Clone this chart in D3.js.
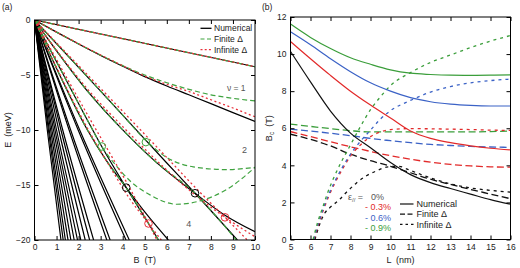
<!DOCTYPE html>
<html>
<head>
<meta charset="utf-8">
<script src="https://cdn.jsdelivr.net/npm/d3@7"></script>
<style>
  body { margin: 0; background: #fff; }
  svg { font-family: "Liberation Sans", Arial, sans-serif; }
</style>
</head>
<body>
<svg id="chart" width="520" height="268"></svg>
<script>
// ---------------- panel (a) data: E (meV) vs B (T) ----------------
const bTicks = [0, 1, 2, 3, 4, 5, 6, 7, 8, 9, 10];
const eTicks = [0, -5, -10, -15, -20];

// numerical Landau levels (black)
const numLevels = [
  [[0, 0], [10, -4.25]],
  [[0, 0], [1, -1.1], [2, -2.18], [3, -3.22], [4, -4.2], [5, -5.15], [6, -6.0], [7, -6.8], [8, -7.6], [9, -8.42], [10, -9.22]],
  [[0, 0], [1, -2.8], [2.5, -6.7], [4.2, -10.4], [5.5, -12.9], [7.28, -15.75], [8.6, -17.7], [10, -19.25]],
  [[0, 0], [2, -4.3], [4, -8.65], [6, -13.0], [7.28, -15.75], [9.2, -20]],
  [[0, 0], [1, -4.4], [2.4, -10.0], [3.3, -12.9], [4.16, -15.24], [5.1, -17.7], [6.07, -20]],
  [[0, 0], [1, -3.8], [2.52, -9.55], [3.05, -11.5], [4.16, -15.24], [5.17, -18.5], [5.62, -20]],
  // steep fan of higher levels
  [[0, 0], [2.05, -10], [4.3, -20]],
  [[0, 0], [1.98, -10], [4.15, -20]],
  [[0, 0], [1.64, -10], [3.43, -20]],
  [[0, 0], [1.57, -10], [3.28, -20]],
  [[0, 0], [1.28, -10], [2.68, -20]],
  [[0, 0], [1.2, -10], [2.5, -20]],
  [[0, 0], [1.1, -10], [2.3, -20]],
  [[0, 0], [1.0, -10], [2.1, -20]],
  [[0, 0], [0.93, -10], [1.95, -20]],
  [[0, 0], [0.86, -10], [1.8, -20]],
  [[0, 0], [0.79, -10], [1.65, -20]],
  [[0, 0], [0.73, -10], [1.52, -20]],
  [[0, 0], [0.67, -10], [1.4, -20]],
  [[0, 0], [0.63, -10], [1.3, -20]],
  [[0, 0], [0.58, -10], [1.2, -20]]
];

// finite Delta model (green dashed)
const finiteLevels = [
  [[0, 0], [10, -4.25]],
  [[0, 0], [1, -1.1], [2, -2.18], [3, -3.2], [4, -4.15], [5, -5.0], [6, -5.7], [7, -6.3], [8, -6.8], [9, -7.12], [10, -7.36]],
  [[0, 0], [1, -2.8], [2.5, -6.7], [4.2, -10.4], [5.5, -12.9], [7.28, -15.75], [8.2, -17.75], [9.15, -20]],
  [[0, 0], [2, -4.3], [4, -8.65], [5.05, -10.95], [6, -12.5], [7.2, -13.35], [8.7, -13.6], [10, -13.4]],
  [[0, 0], [1, -4.4], [2.4, -10.0], [3.3, -12.9], [4.16, -15.24], [5.17, -18.5], [5.62, -20]],
  [[0, 0], [1, -3.8], [2.52, -9.55], [3.05, -11.5], [3.73, -13.3], [4.4, -14.75], [5.24, -15.9], [6.45, -16.75], [7.5, -16.45], [8.72, -15.4], [10, -13.4]]
];

// infinite Delta model (red dotted)
const infiniteLevels = [
  [[0, 0], [10, -4.25]],
  [[0, 0], [1, -1.1], [2, -2.15], [3, -3.18], [4, -4.15], [5, -5.1], [6, -5.85], [7, -6.5], [8, -7.25], [9, -8.0], [10, -8.8]],
  [[0, 0], [1, -2.75], [2.5, -6.5], [4.2, -10.1], [5.5, -12.7], [7.28, -15.9], [8.64, -17.94], [10, -19.7]],
  [[0, 0], [2, -4.15], [4, -8.3], [6, -12.5], [7.28, -15.2], [8.64, -17.94], [9.65, -20]],
  [[0, 0], [1, -4.3], [2.5, -10.2], [3.5, -13.6], [4.3, -16.2], [5.17, -18.5], [5.75, -20]],
  [[0, 0], [1, -3.6], [2.6, -9.3], [3.5, -12.4], [4.3, -15.2], [5.17, -18.5], [5.55, -20]]
];

const blackCircles = [[4.16, -15.24], [7.28, -15.75]];
const greenCircles = [[3.05, -11.5], [5.05, -11.1]];
const redCircles = [[5.17, -18.5], [8.64, -17.94]];

// ---------------- panel (b) data: Bc (T) vs L (nm) ----------------
const lTicks = [5, 6, 7, 8, 9, 10, 11, 12, 13, 14, 15, 16];
const bcTicks = [0, 2, 4, 6, 8, 10, 12];
const strainLabels = ['0%', '- 0.3%', '- 0.6%', '- 0.9%'];

const numBc = [
  [[5, 10.14], [6, 8.5], [7, 6.93], [8, 5.74], [9, 4.95], [10, 4.15], [11, 3.5], [12, 3.07], [13, 2.75], [14, 2.45], [15, 2.15], [16, 1.9]],
  [[5, 10.68], [6, 9.75], [7, 8.85], [8, 8.0], [9, 7.25], [10, 6.55], [11, 5.85], [12, 5.45], [13, 5.22], [14, 5.05], [15, 4.92], [16, 4.83]],
  [[5, 11.2], [6, 10.5], [7, 9.75], [8, 9.05], [9, 8.45], [10, 8.0], [11, 7.65], [12, 7.43], [13, 7.3], [14, 7.23], [15, 7.2], [16, 7.2]],
  [[5, 11.62], [6, 10.9], [7, 10.3], [8, 9.8], [9, 9.45], [10, 9.15], [11, 8.97], [12, 8.9], [13, 8.86], [14, 8.85], [15, 8.86], [16, 8.88]]
];

const finiteBc = [
  [[5, 5.68], [6, 5.4], [7, 5.05], [8, 4.6], [9, 4.25], [10, 3.95], [11, 3.6], [12, 3.25], [13, 2.97], [14, 2.7], [15, 2.45], [16, 2.2]],
  [[5, 5.82], [6, 5.55], [7, 5.27], [8, 5.0], [9, 4.75], [10, 4.52], [11, 4.33], [12, 4.17], [13, 4.05], [14, 3.97], [15, 3.92], [16, 3.9]],
  [[5, 5.95], [6, 5.85], [7, 5.73], [8, 5.6], [9, 5.45], [10, 5.33], [11, 5.22], [12, 5.13], [13, 5.07], [14, 5.02], [15, 4.99], [16, 4.97]],
  [[5, 6.22], [6, 6.1], [7, 5.98], [8, 5.87], [9, 5.8], [10, 5.8], [11, 5.8], [12, 5.8], [13, 5.8], [14, 5.8], [15, 5.82], [16, 5.85]]
];

const infiniteBc = [
  [[6.22, 0], [6.45, 0.8], [6.7, 1.4], [7.0, 1.75], [7.4, 2.1], [7.8, 2.55], [8.3, 3.05], [8.8, 3.44], [9.3, 3.7], [9.8, 3.9], [10.4, 3.95], [11, 3.72], [12, 3.32], [13, 3.0], [14, 2.78], [15, 2.65], [16, 2.55]],
  [[6.18, 0], [6.4, 0.8], [6.65, 1.6], [6.9, 2.3], [7.2, 3.0], [7.6, 3.8], [8.0, 4.5], [8.5, 5.1], [9.0, 5.55], [9.5, 5.8], [10, 5.93], [11, 5.98], [12, 5.97], [13, 5.95], [14, 5.93], [15, 5.9], [16, 5.88]],
  [[6.16, 0], [6.4, 0.9], [6.65, 1.7], [6.9, 2.4], [7.2, 3.1], [7.6, 3.9], [8.0, 4.6], [8.5, 5.3], [9.0, 5.9], [9.5, 6.5], [10, 6.95], [11, 7.5], [12, 7.95], [13, 8.25], [14, 8.45], [15, 8.57], [16, 8.65]],
  [[6.13, 0], [6.35, 0.9], [6.6, 1.7], [6.85, 2.5], [7.15, 3.3], [7.5, 4.1], [8.0, 5.1], [8.5, 6.1], [9, 7.0], [9.5, 7.7], [10, 8.3], [11, 9.0], [12, 9.55], [13, 9.95], [14, 10.35], [15, 10.7], [16, 11.0]]
];

// ---------------- styles ----------------
const GREEN_A = '#3fa33f';
const RED_A = '#e8303a';
const strainColors = ['#111111', '#e22a2a', '#3b62c6', '#3b9e3b'];
const textColor = '#222';

const svg = d3.select('#chart');

// helper: framed panel with inward ticks on all four sides
function drawFrame(g, x, y, xTicks, yTicks) {
  const [x0, x1] = x.range();
  const [y0, y1] = y.range();

  g.append('g')
    .attr('transform', `translate(0,${y0})`)
    .call(d3.axisBottom(x).tickValues(xTicks).tickSize(-4).tickSizeOuter(0).tickPadding(4))
    .call(a => a.select('.domain').remove());
  g.append('g')
    .attr('transform', `translate(0,${y1})`)
    .call(d3.axisTop(x).tickValues(xTicks).tickSize(-4).tickSizeOuter(0).tickFormat(''))
    .call(a => a.select('.domain').remove());
  g.append('g')
    .attr('transform', `translate(${x0},0)`)
    .call(d3.axisLeft(y).tickValues(yTicks).tickSize(-4).tickSizeOuter(0).tickPadding(4))
    .call(a => a.select('.domain').remove());
  g.append('g')
    .attr('transform', `translate(${x1},0)`)
    .call(d3.axisRight(y).tickValues(yTicks).tickSize(-4).tickSizeOuter(0).tickFormat(''))
    .call(a => a.select('.domain').remove());

  g.selectAll('.tick text').attr('font-size', 8.5).attr('fill', textColor).attr('font-family', null);
  g.selectAll('.tick line').attr('stroke', '#000');

  g.append('rect')
    .attr('x', x0).attr('y', y1)
    .attr('width', x1 - x0).attr('height', y0 - y1)
    .attr('fill', 'none').attr('stroke', '#000').attr('stroke-width', 1);
}

function clipFor(id, x, y) {
  const [x0, x1] = x.range();
  const [y0, y1] = y.range();
  svg.append('clipPath').attr('id', id)
    .append('rect').attr('x', x0).attr('y', y1).attr('width', x1 - x0).attr('height', y0 - y1);
}

// ================= panel (a) =================
const xA = d3.scaleLinear().domain([0, 10]).range([34.5, 255]);
const yA = d3.scaleLinear().domain([-20, 0]).range([240, 20]);
clipFor('clipA', xA, yA);

const lineA = d3.line()
  .x(d => xA(d[0]))
  .y(d => yA(d[1]))
  .curve(d3.curveMonotoneX);

const gA = svg.append('g');
const plotA = gA.append('g').attr('clip-path', 'url(#clipA)');

plotA.selectAll('path.num')
  .data(numLevels)
  .join('path')
  .attr('class', 'num')
  .attr('d', lineA)
  .attr('fill', 'none')
  .attr('stroke', '#000')
  .attr('stroke-width', 1.2);

plotA.selectAll('path.fin')
  .data(finiteLevels)
  .join('path')
  .attr('class', 'fin')
  .attr('d', lineA)
  .attr('fill', 'none')
  .attr('stroke', GREEN_A)
  .attr('stroke-width', 1.2)
  .attr('stroke-dasharray', '5,3');

plotA.selectAll('path.inf')
  .data(infiniteLevels)
  .join('path')
  .attr('class', 'inf')
  .attr('d', lineA)
  .attr('fill', 'none')
  .attr('stroke', RED_A)
  .attr('stroke-width', 1.3)
  .attr('stroke-dasharray', '2,2.6');

// crossing markers
[[blackCircles, '#000'], [greenCircles, GREEN_A], [redCircles, RED_A]].forEach(([pts, col]) => {
  plotA.append('g').selectAll('circle')
    .data(pts)
    .join('circle')
    .attr('cx', d => xA(d[0]))
    .attr('cy', d => yA(d[1]))
    .attr('r', 3.8)
    .attr('fill', 'none')
    .attr('stroke', col)
    .attr('stroke-width', 1);
});

drawFrame(gA, xA, yA, bTicks, eTicks);

// filling factor labels
gA.append('text').attr('x', xA(9.15)).attr('y', yA(-6.2) + 3).attr('text-anchor', 'middle')
  .attr('font-size', 8.5).attr('fill', '#555').text('ν = 1');
gA.append('text').attr('x', xA(9.52)).attr('y', yA(-11.8) + 3).attr('text-anchor', 'middle')
  .attr('font-size', 9).attr('fill', '#555').text('2');
gA.append('text').attr('x', xA(7.0)).attr('y', yA(-18.55) + 3).attr('text-anchor', 'middle')
  .attr('font-size', 9).attr('fill', '#555').text('4');

// legend (a)
const legA = [
  { name: 'Numerical', stroke: '#000', dash: null, w: 1.3 },
  { name: 'Finite Δ', stroke: GREEN_A, dash: '4,2.5', w: 1.2 },
  { name: 'Infinite Δ', stroke: RED_A, dash: '2,2.2', w: 1.3 }
];
legA.forEach((d, i) => {
  const yy = 28.3 + i * 10.7;
  gA.append('line').attr('x1', 200.5).attr('x2', 211.5).attr('y1', yy).attr('y2', yy)
    .attr('stroke', d.stroke).attr('stroke-width', d.w).attr('stroke-dasharray', d.dash);
  gA.append('text').attr('x', 214).attr('y', yy + 3).attr('font-size', 8.5)
    .attr('fill', textColor).text(d.name);
});

// axis titles (a)
gA.append('text').attr('x', xA(5)).attr('y', 263).attr('text-anchor', 'middle')
  .attr('font-size', 9).attr('fill', textColor).attr('xml:space', 'preserve').text('B  (T)');
gA.append('text').attr('transform', `translate(11,${yA(-10)}) rotate(-90)`).attr('text-anchor', 'middle')
  .attr('font-size', 9).attr('fill', textColor).attr('xml:space', 'preserve').text('E  (meV)');
gA.append('text').attr('x', 2).attr('y', 10).attr('font-size', 8.5).attr('fill', textColor).text('(a)');

// ================= panel (b) =================
const xB = d3.scaleLinear().domain([5, 16]).range([290.5, 510.5]);
const yB = d3.scaleLinear().domain([0, 12]).range([239.5, 17]);
clipFor('clipB', xB, yB);

const lineB = d3.line()
  .x(d => xB(d[0]))
  .y(d => yB(d[1]))
  .curve(d3.curveMonotoneX);

const gB = svg.append('g');
const plotB = gB.append('g').attr('clip-path', 'url(#clipB)');

plotB.selectAll('path.fin')
  .data(finiteBc)
  .join('path')
  .attr('class', 'fin')
  .attr('d', lineB)
  .attr('fill', 'none')
  .attr('stroke', (d, i) => strainColors[i])
  .attr('stroke-width', 1.3)
  .attr('stroke-dasharray', '7,3.5');

plotB.selectAll('path.inf')
  .data(infiniteBc)
  .join('path')
  .attr('class', 'inf')
  .attr('d', lineB)
  .attr('fill', 'none')
  .attr('stroke', (d, i) => strainColors[i])
  .attr('stroke-width', 1.3)
  .attr('stroke-dasharray', '3,4');

plotB.selectAll('path.num')
  .data(numBc)
  .join('path')
  .attr('class', 'num')
  .attr('d', lineB)
  .attr('fill', 'none')
  .attr('stroke', (d, i) => strainColors[i])
  .attr('stroke-width', 1.2);

drawFrame(gB, xB, yB, lTicks, bcTicks);

// strain legend
const epsText = gB.append('text').attr('x', 348).attr('y', 199.7).attr('font-size', 9).attr('fill', '#555');
epsText.append('tspan').text('ε');
epsText.append('tspan').attr('dy', 2).attr('font-size', 6).text('//');
epsText.append('tspan').attr('dy', -2).text(' =');
strainLabels.forEach((t, i) => {
  gB.append('text')
    .attr('x', i === 0 ? 371 : 365)
    .attr('y', 199.7 + i * 10.5)
    .attr('font-size', 9)
    .attr('fill', i === 0 ? '#555' : strainColors[i])
    .text(t);
});

// model legend (b)
const legB = [
  { name: 'Numerical', dash: null },
  { name: 'Finite Δ', dash: '5,2.5' },
  { name: 'Infinite Δ', dash: '2.5,3' }
];
legB.forEach((d, i) => {
  const yy = 204 + i * 10.2;
  gB.append('line').attr('x1', 400).attr('x2', 413.5).attr('y1', yy).attr('y2', yy)
    .attr('stroke', '#111').attr('stroke-width', 1.2).attr('stroke-dasharray', d.dash);
  gB.append('text').attr('x', 416.5).attr('y', yy + 3.2).attr('font-size', 9)
    .attr('fill', textColor).text(d.name);
});

// axis titles (b)
gB.append('text').attr('x', xB(10.5)).attr('y', 263).attr('text-anchor', 'middle')
  .attr('font-size', 9).attr('fill', textColor).attr('xml:space', 'preserve').text('L  (nm)');
const bcLabel = gB.append('text').attr('transform', `translate(272,${yB(6)}) rotate(-90)`)
  .attr('text-anchor', 'middle').attr('font-size', 9).attr('fill', textColor);
bcLabel.append('tspan').text('B');
bcLabel.append('tspan').attr('dy', 2).attr('font-size', 6.5).text('c');
bcLabel.append('tspan').attr('dy', -2).attr('xml:space', 'preserve').text('  (T)');
gB.append('text').attr('x', 262).attr('y', 10).attr('font-size', 8.5).attr('fill', textColor).text('(b)');
</script>
</body>
</html>
